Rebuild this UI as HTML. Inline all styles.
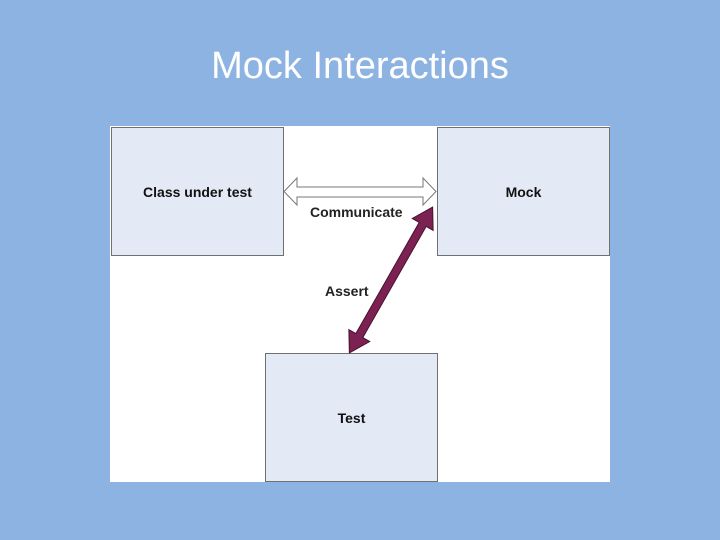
<!DOCTYPE html>
<html><head><style>
body{margin:0;width:720px;height:540px;background:#8db3e2;position:relative;overflow:hidden;font-family:"Liberation Sans",sans-serif}
.t{position:absolute;left:0;width:720px;top:40px;text-align:center;color:#fff;font-size:38px;line-height:52px}
.p{position:absolute;left:110px;top:126px;width:500px;height:356px;background:#fff}
.b{position:absolute;background:#e3eaf5;border:1px solid #707070;box-sizing:border-box;display:flex;align-items:center;justify-content:center;font-weight:bold;font-size:14px;color:#111}
.l{position:absolute;font-weight:bold;font-size:14px;color:#222}
</style></head><body>
<div class="t">Mock Interactions</div>
<div class="p"></div>
<div class="b" style="left:111px;top:127px;width:173px;height:129px">Class under test</div>
<div class="b" style="left:437px;top:127px;width:173px;height:129px">Mock</div>
<div class="b" style="left:265px;top:353px;width:173px;height:129px;padding-top:0">Test</div>
<svg style="position:absolute;left:0;top:0" width="720" height="540">
<polygon points="284,191.5 297,178 297,187 423,187 423,178 436,191.5 423,205 423,197 297,197 297,205" fill="#fff" stroke="#777" stroke-width="1"/>
<g transform="translate(391,280) rotate(-60.3)">
<polygon points="-84,0 -64,-12 -64,-4 64,-4 64,-12 84,0 64,12 64,4 -64,4 -64,12" fill="#7b2252" stroke="#4a1030" stroke-width="1"/>
</g>
</svg>
<div class="l" style="left:310px;top:204px">Communicate</div>
<div class="l" style="left:325px;top:283px">Assert</div>
</body></html>
